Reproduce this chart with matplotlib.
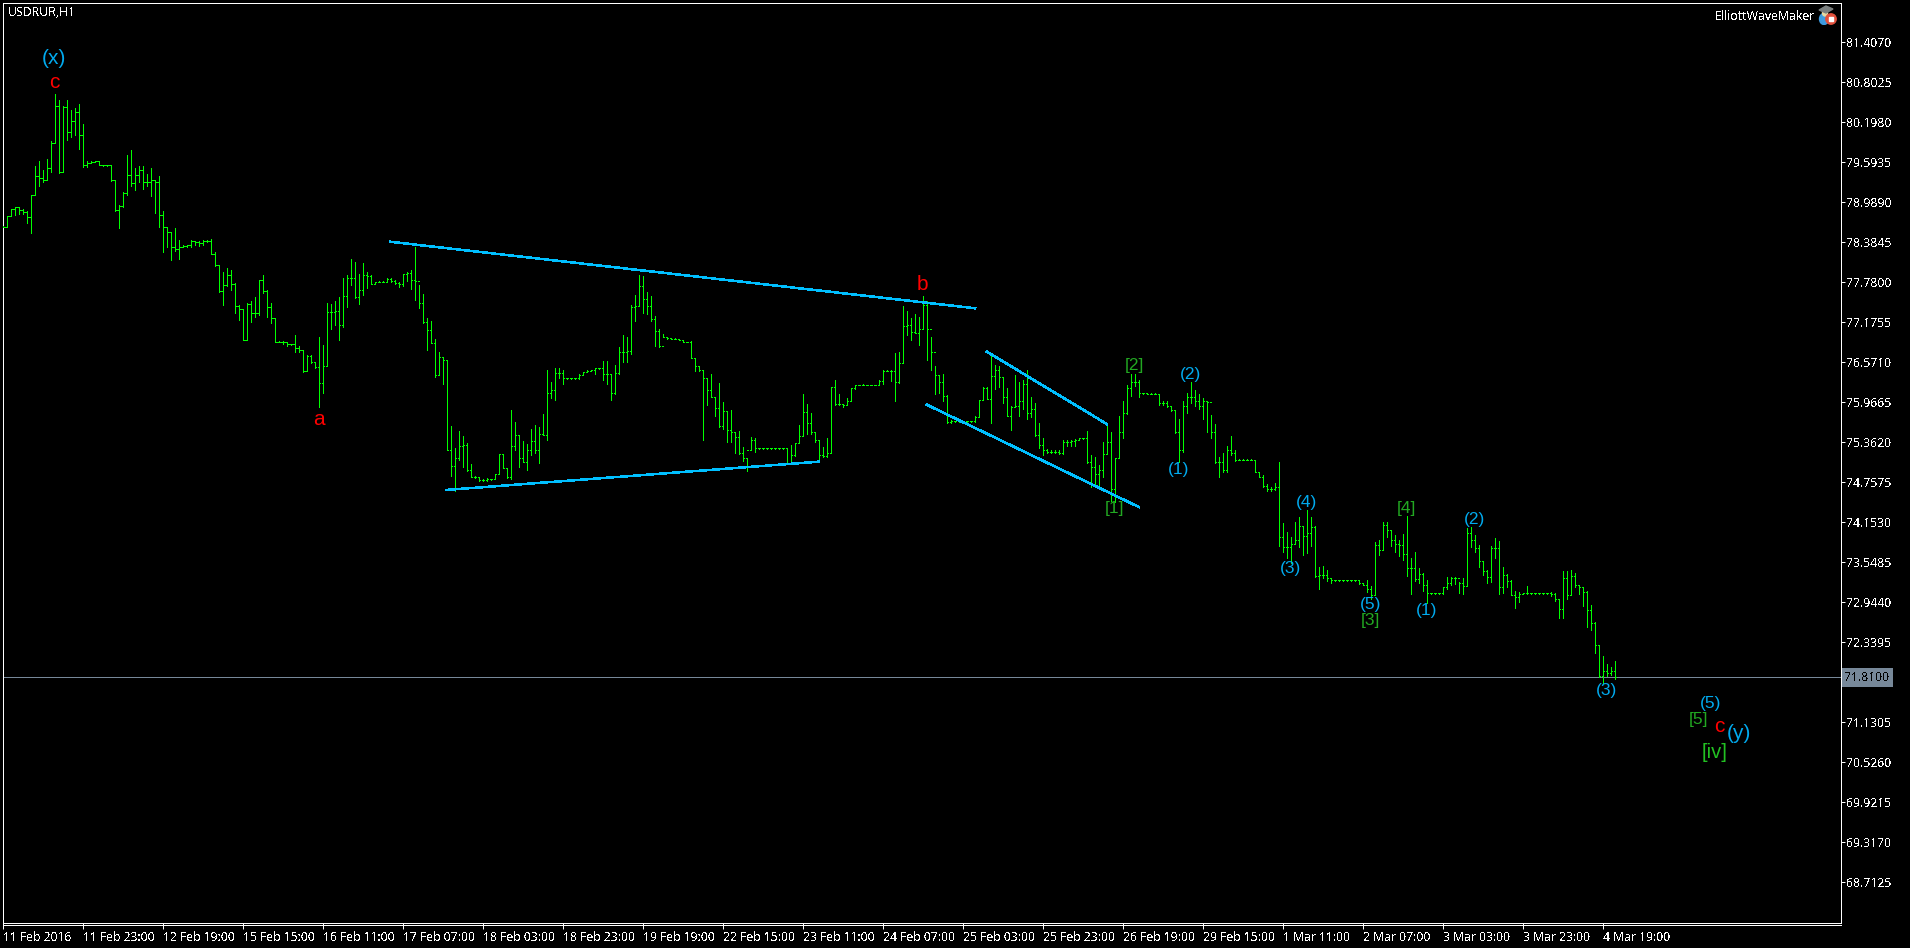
"""USDRUR H1 bar chart with Elliott wave marks, MT4 look."""

import numpy as np
import matplotlib
matplotlib.use("Agg")
import matplotlib.pyplot as plt
from matplotlib.lines import Line2D
from matplotlib.patches import Circle, Ellipse, Polygon, Rectangle

# ── Bars (one per hour) ────────────────────────────────────────
highs = [
    78.63,78.78,78.88,78.92,78.92,78.88,78.86,79.10,79.53,79.61,
    79.48,79.65,79.91,80.62,80.54,80.44,80.54,80.38,80.42,80.48,
    80.17,79.62,79.61,79.61,79.61,79.55,79.55,79.55,79.32,78.95,
    79.14,79.71,79.78,79.50,79.54,79.54,79.42,79.50,79.33,79.39,
    78.86,78.62,78.53,78.60,78.42,78.35,78.35,78.42,78.41,78.41,
    78.42,78.42,78.43,78.23,78.04,77.94,77.99,77.97,77.77,77.44,
    77.37,77.46,77.49,77.55,77.82,77.89,77.66,77.46,77.24,76.89,
    76.89,76.87,76.85,76.99,76.81,76.76,76.68,76.68,76.57,76.95,
    76.83,77.46,77.45,77.49,77.55,77.84,77.89,78.13,78.09,77.91,
    78.07,77.94,77.89,77.79,77.80,77.80,77.84,77.84,77.81,77.78,
    77.91,77.94,77.97,78.31,77.74,77.61,77.24,77.19,76.93,76.72,
    76.65,76.61,75.61,75.27,75.53,75.46,75.35,75.04,74.85,74.83,
    74.80,74.82,74.81,74.89,75.19,75.19,74.97,75.85,75.67,75.47,
    75.38,75.34,75.56,75.63,75.59,75.79,76.45,76.27,76.48,76.48,
    76.45,76.34,76.34,76.34,76.39,76.42,76.45,76.46,76.48,76.49,
    76.59,76.59,76.39,76.53,76.80,76.98,76.96,77.44,77.59,77.89,
    77.88,77.63,77.58,77.27,77.08,77.00,76.96,76.94,76.94,76.93,
    76.91,76.88,76.89,76.64,76.51,76.45,76.33,76.39,76.05,76.26,
    75.97,75.83,75.85,75.52,75.53,75.29,75.12,75.44,75.42,75.28,
    75.28,75.28,75.28,75.28,75.28,75.28,75.27,75.32,75.35,75.62,
    76.09,75.94,75.80,75.52,75.40,75.29,75.42,76.19,76.30,76.09,
    75.94,76.03,76.18,76.23,76.23,76.25,76.23,76.23,76.23,76.30,
    76.45,76.45,76.45,76.71,76.73,77.42,77.34,77.24,77.30,77.25,
    77.57,77.49,76.95,76.52,76.38,76.40,76.07,75.70,75.69,75.69,
    75.69,75.69,75.69,75.76,76.00,76.19,76.19,76.67,76.53,76.51,
    76.35,76.18,75.91,76.38,76.28,76.30,76.45,76.04,75.95,75.65,
    75.42,75.26,75.25,75.25,75.24,75.40,75.39,75.39,75.41,75.42,
    75.42,75.53,75.17,75.14,75.02,75.36,75.64,75.51,75.12,75.76,
    75.98,76.23,76.39,76.40,76.31,76.11,76.10,76.10,76.10,76.09,
    75.99,75.99,75.91,75.85,75.71,75.98,76.11,76.28,76.15,76.09,
    76.03,75.99,75.77,75.64,75.14,75.20,75.31,75.46,75.25,75.11,
    75.11,75.11,75.11,75.10,74.92,74.86,74.73,74.68,74.75,75.07,
    74.14,74.01,73.93,74.16,74.23,74.10,74.34,74.23,74.10,73.48,
    73.49,73.43,73.31,73.28,73.28,73.28,73.28,73.28,73.28,73.28,
    73.23,73.28,73.19,73.86,73.89,74.15,74.16,74.04,73.96,73.89,
    73.98,74.25,73.61,73.71,73.46,73.38,73.28,73.09,73.09,73.09,
    73.18,73.32,73.32,73.33,73.25,73.31,74.06,74.08,73.96,73.81,
    73.57,73.43,73.79,73.91,73.87,73.47,73.37,73.28,73.12,73.10,
    73.09,73.19,73.09,73.09,73.09,73.09,73.09,73.10,73.08,72.99,
    73.41,73.42,73.43,73.38,73.19,73.18,73.12,72.90,72.64,72.30,
    72.13,72.01,71.97,72.06,
]
lows = [
    78.61,78.61,78.78,78.80,78.81,78.81,78.67,78.53,79.10,79.24,
    79.30,79.33,79.45,79.88,79.43,79.45,79.93,79.98,80.01,79.80,
    79.52,79.52,79.58,79.60,79.55,79.54,79.54,79.31,78.86,78.60,
    78.92,79.10,79.23,79.17,79.30,79.19,79.23,79.08,78.83,78.62,
    78.24,78.32,78.12,78.25,78.13,78.31,78.31,78.31,78.35,78.33,
    78.35,78.39,78.20,78.03,77.64,77.44,77.73,77.66,77.32,77.21,
    76.90,76.90,77.18,77.26,77.28,77.62,77.25,77.17,76.88,76.87,
    76.85,76.82,76.83,76.73,76.73,76.43,76.44,76.56,76.48,75.90,
    76.10,76.51,77.08,77.13,76.91,77.11,77.41,77.74,77.54,77.45,
    77.59,77.70,77.75,77.76,77.79,77.79,77.79,77.79,77.76,77.71,
    77.73,77.80,77.68,77.51,77.39,77.17,76.76,76.86,76.35,76.38,
    76.25,75.24,74.85,74.62,75.10,74.99,74.93,74.83,74.82,74.78,
    74.78,74.78,74.79,74.80,74.88,74.97,74.82,74.81,75.24,74.99,
    75.07,74.94,75.17,75.20,75.05,75.47,75.39,76.03,76.00,76.33,
    76.25,76.32,76.32,76.32,76.32,76.38,76.42,76.44,76.40,76.47,
    76.30,76.25,76.00,76.09,76.40,76.57,76.57,76.70,77.20,77.42,
    77.32,77.30,77.19,76.81,76.80,76.95,76.93,76.93,76.93,76.90,
    76.87,76.87,76.63,76.44,76.44,75.39,75.92,76.04,75.76,75.60,
    75.56,75.37,75.36,75.20,75.19,75.08,74.93,75.24,75.22,75.26,
    75.26,75.26,75.26,75.26,75.26,75.26,75.04,75.04,75.15,75.35,
    75.45,75.49,75.49,75.37,75.06,75.14,75.14,75.20,75.93,75.93,
    75.89,75.93,75.98,76.17,76.22,76.22,76.22,76.22,76.22,76.22,
    76.24,76.44,76.29,75.99,76.26,76.56,76.98,76.91,77.02,76.83,
    77.08,76.61,76.46,76.09,76.11,75.99,75.65,75.66,75.67,75.67,
    75.67,75.67,75.67,75.67,75.75,76.00,76.02,75.65,76.16,76.19,
    75.96,75.76,75.55,75.89,75.76,75.87,75.71,75.74,75.46,75.27,
    75.17,75.20,75.20,75.20,75.19,75.18,75.31,75.31,75.31,75.39,
    75.41,75.05,74.69,74.69,74.68,74.84,75.18,74.48,74.46,75.12,
    75.42,75.79,76.06,76.21,76.05,76.09,76.09,76.09,76.09,75.92,
    75.92,75.90,75.84,75.50,75.07,75.22,75.80,75.95,75.91,75.87,
    75.71,75.52,75.42,75.05,74.84,74.92,74.92,75.17,75.08,75.10,
    75.10,75.10,75.10,74.91,74.83,74.69,74.62,74.63,74.64,73.79,
    73.71,73.61,73.54,73.83,73.78,73.66,73.69,73.79,73.33,73.15,
    73.31,73.26,73.23,73.27,73.27,73.27,73.27,73.27,73.27,73.22,
    73.20,73.10,72.99,73.07,73.66,73.73,73.93,73.80,73.71,73.64,
    73.59,73.34,73.07,73.26,73.23,73.12,72.94,73.07,73.07,73.07,
    73.07,73.15,73.20,73.22,73.08,73.07,73.19,73.78,73.71,73.48,
    73.36,73.24,73.25,73.61,73.07,73.08,73.17,73.05,72.86,72.95,
    73.07,73.07,73.07,73.07,73.07,73.07,73.07,73.04,72.97,72.70,
    72.70,73.00,73.05,73.17,73.07,72.89,72.57,72.53,72.18,71.82,
    71.72,71.83,71.85,71.78,
]
closes = [
    78.62,78.78,78.88,78.91,78.87,78.84,78.77,79.10,79.38,79.35,
    79.32,79.51,79.89,80.44,79.44,80.43,80.05,80.22,80.36,80.01,
    79.55,79.58,79.60,79.61,79.55,79.55,79.55,79.32,78.87,78.93,
    79.13,79.40,79.28,79.40,79.47,79.29,79.30,79.32,79.30,78.80,
    78.62,78.54,78.32,78.29,78.32,78.33,78.34,78.40,78.39,78.37,
    78.41,78.41,78.20,78.04,77.65,77.74,77.89,77.76,77.42,77.37,
    76.91,77.45,77.32,77.32,77.81,77.65,77.41,77.24,76.88,76.88,
    76.87,76.84,76.84,76.78,76.76,76.44,76.67,76.57,76.50,76.26,
    76.51,77.33,77.33,77.35,77.13,77.57,77.84,77.84,77.55,77.67,
    77.89,77.87,77.76,77.78,77.79,77.79,77.83,77.80,77.77,77.75,
    77.90,77.92,77.82,77.80,77.47,77.18,77.06,76.86,76.38,76.65,
    76.61,75.25,75.00,75.12,75.31,75.32,74.94,74.84,74.83,74.79,
    74.79,74.80,74.80,74.88,75.18,74.98,74.84,75.31,75.47,75.13,
    75.07,75.24,75.38,75.25,75.48,75.47,76.11,76.15,76.41,76.41,
    76.33,76.33,76.33,76.33,76.38,76.42,76.44,76.45,76.48,76.48,
    76.40,76.39,76.10,76.41,76.72,76.73,76.74,77.41,77.42,77.72,
    77.52,77.42,77.22,77.04,76.82,76.96,76.94,76.93,76.93,76.91,
    76.88,76.88,76.64,76.51,76.45,76.33,76.15,76.05,75.88,75.61,
    75.83,75.55,75.52,75.44,75.20,75.12,75.25,75.40,75.27,75.27,
    75.27,75.27,75.27,75.27,75.27,75.27,75.05,75.17,75.35,75.45,
    75.82,75.66,75.51,75.39,75.17,75.15,75.20,76.19,75.94,75.94,
    75.93,75.98,76.18,76.22,76.23,76.22,76.22,76.22,76.22,76.29,
    76.44,76.44,76.44,76.28,76.56,77.12,77.14,77.03,77.02,77.08,
    77.44,77.08,76.73,76.38,76.27,76.06,75.67,75.68,75.68,75.68,
    75.68,75.68,75.68,75.75,76.00,76.18,76.02,76.36,76.46,76.35,
    76.04,75.76,75.89,75.91,75.98,76.24,75.80,75.87,75.47,75.32,
    75.24,75.22,75.22,75.22,75.20,75.37,75.37,75.38,75.40,75.42,
    75.42,75.07,74.99,74.89,74.94,75.19,75.36,74.65,75.12,75.51,
    75.80,76.18,76.28,76.28,76.10,76.10,76.09,76.09,76.09,75.96,
    75.96,75.91,75.85,75.51,75.25,75.91,76.04,76.05,75.98,75.91,
    75.98,75.97,75.51,75.06,75.07,74.94,75.24,75.20,75.10,75.10,
    75.10,75.10,75.10,74.92,74.84,74.70,74.65,74.66,74.68,73.93,
    73.78,73.78,73.83,73.88,74.10,73.94,73.99,74.08,73.34,73.36,
    73.36,73.31,73.28,73.28,73.28,73.28,73.28,73.28,73.28,73.23,
    73.21,73.15,73.06,73.81,73.74,74.11,74.03,73.89,73.82,73.81,
    73.68,73.46,73.46,73.29,73.37,73.21,73.08,73.08,73.08,73.08,
    73.17,73.23,73.31,73.31,73.24,73.19,73.99,73.88,73.77,73.57,
    73.42,73.32,73.76,73.76,73.18,73.36,73.27,73.05,73.03,73.07,
    73.08,73.08,73.08,73.08,73.08,73.08,73.08,73.07,72.99,72.84,
    73.31,73.05,73.34,73.21,73.18,73.10,72.83,72.63,72.30,71.83,
    71.91,71.87,71.90,71.81,
]

# ── Axis labels ────────────────────────────────────────────────
price_ticks = [81.4070, 80.8025, 80.1980, 79.5935, 78.9890, 78.3845, 77.7800,
               77.1755, 76.5710, 75.9665, 75.3620, 74.7575, 74.1530, 73.5485,
               72.9440, 72.3395, 71.7350, 71.1305, 70.5260, 69.9215, 69.3170,
               68.7125]
time_labels = ["11 Feb 2016", "11 Feb 23:00", "12 Feb 19:00", "15 Feb 15:00",
               "16 Feb 11:00", "17 Feb 07:00", "18 Feb 03:00", "18 Feb 23:00",
               "19 Feb 19:00", "22 Feb 15:00", "23 Feb 11:00", "24 Feb 07:00",
               "25 Feb 03:00", "25 Feb 23:00", "26 Feb 19:00", "29 Feb 15:00",
               "1 Mar 11:00", "2 Mar 07:00", "3 Mar 03:00", "3 Mar 23:00",
               "4 Mar 19:00"]
bars_per_label = 20
last_price = 71.81

# ── Trend lines: (bar, price) ends ─────────────────────────────
trend_bars = [(96.8, 243.1), (110.8, 204.1), (246.0, 276.0), (231.0, 284.0)]
trend_prices = [(78.393, 77.387), (74.641, 75.069), (76.731, 75.638), (75.930, 74.384)]

# ── Wave labels ────────────────────────────────────────────────
BLUE = "#00AAEE"
GREEN = "#22A822"
LIME = "#22C022"
RED = "#FF0000"

wave_text = ["(x)", "c", "a", "b", "[1]", "[2]", "(1)", "(2)", "(3)", "(4)", "(5)",
             "[3]", "[4]", "(1)", "(2)", "(3)", "(5)", "[5]", "c", "(y)", "[iv]"]
wave_bar = [12.9, 12.8, 79, 230, 278, 283, 294, 297, 322, 326, 342,
            342, 351, 356, 368, 401, 427, 424, 429, 434, 428]
wave_price = [81.165, 80.792, 75.699, 77.739, 74.354, 76.515, 74.943, 76.390,
              73.452, 74.449, 72.903, 72.676, 74.354, 72.827, 74.188, 71.618,
              71.407, 71.165, 71.074, 70.964, 70.677]
wave_color = [BLUE, RED, RED, RED, GREEN, GREEN, BLUE, BLUE, BLUE, BLUE, BLUE,
              GREEN, GREEN, BLUE, BLUE, BLUE, BLUE, GREEN, RED, BLUE, LIME]
wave_size = [15, 15, 15, 15, 12.5, 12.5, 12.5, 12.5, 12.5, 12.5, 12.5,
             12.5, 12.5, 12.5, 12.5, 12.5, 12.5, 12.5, 15, 15, 14.5]

# ── Figure ─────────────────────────────────────────────────────
W, H = 1910, 948
plt.rcParams["font.family"] = ["Noto Sans", "DejaVu Sans"]
plt.rcParams["text.antialiased"] = False

fig = plt.figure(figsize=(W / 100, H / 100), dpi=100, facecolor="black")
ax = fig.add_axes([2.5 / W, 1 - 923 / H, 1838 / W, 920.5 / H], facecolor="black")
ax.set_xlim(-0.04, 459.4)
ax.set_ylim(68.097, 82.008)

for side in ax.spines.values():
    side.set_color("white")
    side.set_linewidth(0.72)

# ── Bars ───────────────────────────────────────────────────────
BAR = "#00FF00"
THIN = 0.6
x = np.arange(len(closes))
opens = np.r_[closes[0], closes[:-1]]  # hourly FX bar opens on the last close
ax.vlines(x, lows, highs, color=BAR, linewidth=THIN, antialiased=False, zorder=3)
ax.hlines(closes, x, x + 0.3, color=BAR, linewidth=THIN, antialiased=False, zorder=3)
ax.hlines(opens, x - 0.3, x, color=BAR, linewidth=THIN, antialiased=False, zorder=3)

# ── Overlays ───────────────────────────────────────────────────
ax.axhline(last_price, color="#778899", linewidth=THIN, antialiased=False, zorder=2)
for bars, prices in zip(trend_bars, trend_prices):
    ax.plot(bars, prices, color="#00BFFF", linewidth=1.1, antialiased=False, zorder=4)

for label, b, p, col, size in zip(wave_text, wave_bar, wave_price, wave_color, wave_size):
    ax.text(b, p, label, color=col, fontsize=size, family="Liberation Sans",
            ha="center", va="center", antialiased=True, zorder=5)

# ── Axes ───────────────────────────────────────────────────────
ax.yaxis.tick_right()
ax.set_yticks(price_ticks)
ax.set_yticklabels([f"{v:.4f}" for v in price_ticks], color="white", fontsize=8.8)
ax.tick_params(axis="y", length=3, width=0.72, color="white", pad=1.5)

ax.set_xticks(np.arange(len(time_labels)) * bars_per_label)
ax.set_xticklabels(time_labels, color="white", fontsize=8.8, ha="left")
ax.tick_params(axis="x", length=4, width=0.72, color="white", pad=2)

# second rule under the plot, as the terminal draws it
fig.add_artist(Line2D([2.5 / W, 1841 / W], [1 - 924.5 / H] * 2, color="white",
                      linewidth=0.6, antialiased=False))

# current price flag sits over the hidden tick label
trans = ax.get_yaxis_transform()
ax.text(1.0024, last_price, f"{last_price:.4f}", transform=trans, color="black",
        fontsize=8.8, ha="left", va="center", zorder=10, clip_on=False,
        bbox=dict(facecolor="#778899", edgecolor="none", pad=2.2))

# ── Titles ─────────────────────────────────────────────────────
fig.text(7.5 / W, 1 - 12 / H, "USDRUR,H1", color="white", fontsize=8.8, ha="left", va="center")
fig.text(1815 / W, 1 - 16.7 / H, "ElliottWaveMaker", color="white", fontsize=8.8,
         ha="right", va="center")

# little expert advisor icon
icon = fig.add_axes([1818 / W, 1 - 25 / H, 20 / W, 20 / H], facecolor="none")
icon.set_xlim(0, 20)
icon.set_ylim(20, 0)
icon.axis("off")
icon.add_patch(Ellipse((6, 14), 9, 11, color="#3E9BE0"))
icon.add_patch(Ellipse((7, 8), 5, 6, color="#E8D9A0"))
icon.add_patch(Polygon([(1, 5), (8, 1), (15, 4), (8, 8)], color="#7A7F7F"))
icon.add_patch(Circle((13, 14), 5.2, color="#E2503C"))
icon.add_patch(Rectangle((10.6, 11.6), 4.8, 4.8, color="white"))

fig.savefig("out.png", dpi=100, facecolor="black")
